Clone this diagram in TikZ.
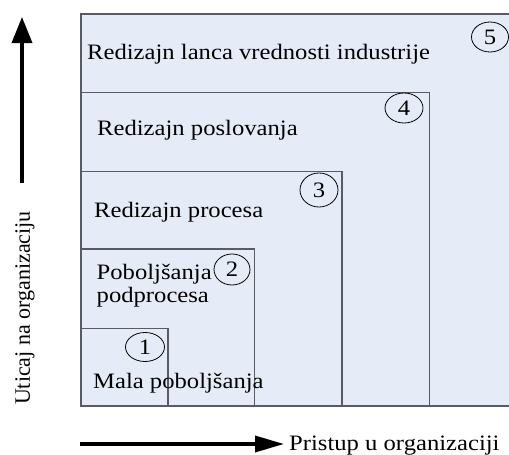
\documentclass[tikz,border=0pt]{standalone}
\usepackage{fontspec}
\setmainfont{Liberation Serif}[FakeStretch=1.12]
\newfontfamily\vfont{Liberation Serif}
\usetikzlibrary{arrows.meta,shapes.geometric}
\definecolor{boxfill}{RGB}{230,236,247}
\definecolor{boxline}{RGB}{90,90,100}
\begin{document}
\begin{tikzpicture}[x=1pt,y=-1pt,
  lvl/.style={draw=boxline, fill=boxfill, line width=1.1pt},
  lbl/.style={anchor=base west, inner sep=0pt, font=\fontsize{22}{26}\selectfont},
  num/.style={draw=black, ellipse, line width=0.8pt, inner sep=0pt, font=\fontsize{22}{26}\selectfont},
  axis/.style={line width=3.5pt, black}]
\useasboundingbox (0,0) rectangle (509,455);
\clip (0,0) rectangle (509,455);
% nested levels
\draw[lvl] (81,406) rectangle (530,14);
\draw[lvl] (81,406) rectangle (429.5,92.3);
\draw[lvl] (81,406) rectangle (342,171.5);
\draw[lvl] (81,406) rectangle (254.5,249);
\draw[lvl] (81,406) rectangle (168,328.3);
% labels
\node[lbl] (t5) at (87,59) {Redizajn lanca vrednosti industrije};
\node[lbl] (t4) at (97,135) {Redizajn poslovanja};
\node[lbl] (t3) at (94,217) {Redizajn procesa};
\node[lbl] (t2a) at (96.5,279) {Poboljšanja};
\node[lbl] (t2b) at (96.5,302) {podprocesa};
\node[lbl] (t1) at (93,388) {Mala poboljšanja};
% numbers
\node[num, minimum width=37pt, minimum height=30pt] (c5) at (490,37) {5};
\node[num, minimum width=38pt, minimum height=30pt] (c4) at (404,108) {4};
\node[num, minimum width=38pt, minimum height=34pt] (c3) at (319,190) {3};
\node[num, minimum width=36pt, minimum height=31pt] (c2) at (232,269.5) {2};
\node[num, minimum width=39pt, minimum height=29pt] (c1) at (145,347) {1};
% axes
\coordinate (vs) at (22,183);
\coordinate (ve) at (22,17);
\draw[axis, -{Triangle[length=26pt,width=20pt]}] (vs) -- (ve);
\node[anchor=base, rotate=90, inner sep=0pt, font=\vfont\fontsize{22}{26}\selectfont] (ylab) at (30,308) {Uticaj na organizaciju};
\coordinate (hs) at (80,444);
\coordinate (he) at (284,444);
\draw[axis, -{Triangle[length=29pt,width=16pt]}] (hs) -- (he);
\node[lbl] (xlab) at (289,450) {Pristup u organizaciji};
\end{tikzpicture}
\end{document}
